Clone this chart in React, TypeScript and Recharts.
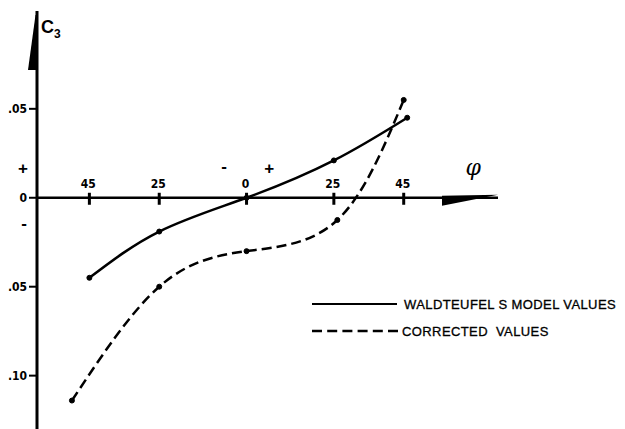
import React from 'react';
import { ComposedChart, Line, XAxis, YAxis, ReferenceLine, ReferenceDot, Legend } from 'recharts';

// ---- data ----
const phiModel = [-45, -25, 0, 25, 46];
const modelValues = [-0.045, -0.019, 0, 0.021, 0.045];
const phiCorrected = [-50, -25, 0, 26, 45];
const correctedValues = [-0.114, -0.05, -0.03, -0.0125, 0.055];
const xTicks = [-45, -25, 0, 25, 45];
const xTickLabels = ['45', '25', '0', '25', '45'];
const yTicks = [0.05, 0, -0.05, -0.1];
const yTickLabels = ['.05', '0', '.05', '.10'];
const seriesNames = ['WALDTEUFEL S MODEL VALUES', 'CORRECTED  VALUES'];
const signLabels = ['+', '-', '-', '+'];
const signX = [-64, -63.7, -6.4, 6.5];
const signY = [0.016, -0.0147, 0.0173, 0.0162];

const X_MIN = -60;
const X_MAX = 72;
const Y_MIN = -0.13;
const Y_MAX = 0.105;

const modelData = phiModel.map((p, i) => ({ phi: p, v: modelValues[i] }));
const correctedData = phiCorrected.map((p, i) => ({ phi: p, v: correctedValues[i] }));

const NUM_FONT = "'Liberation Sans Narrow', 'DejaVu Sans Condensed', 'Liberation Sans', sans-serif";
const SANS = "'Liberation Sans', Arial, sans-serif";

const xTickShape = (label: string) => (props: any) => (
  <g>
    <line x1={props.cx} x2={props.cx} y1={props.cy - 5} y2={props.cy + 7} stroke="#000" strokeWidth={3} />
    <text x={props.cx - 1} y={props.cy - 10} textAnchor="middle" fontFamily={NUM_FONT} fontWeight="bold" fontSize={12} fill="#000">
      {label}
    </text>
  </g>
);

const yTickShape = (label: string) => (props: any) => (
  <g>
    <line x1={props.cx - 8} x2={props.cx} y1={props.cy} y2={props.cy} stroke="#000" strokeWidth={2} />
    <text x={props.cx - 10} y={props.cy + 4} textAnchor="end" fontFamily={NUM_FONT} fontWeight="bold" fontSize={12} fill="#000">
      {label}
    </text>
  </g>
);

const signShape = (label: string) => (props: any) => (
  <text x={props.cx} y={props.cy + 5} textAnchor="middle" fontFamily={SANS} fontWeight="bold" fontSize={17} fill="#000">
    {label}
  </text>
);

const yArrow = (props: any) => (
  <polygon
    points={`${props.cx},${props.cy + 4} ${props.cx - 1.5},${props.cy + 4} ${props.cx - 9},${props.cy + 59} ${props.cx},${props.cy + 59}`}
    fill="#000"
  />
);

const xArrow = (props: any) => (
  <polygon
    points={`${props.cx - 56},${props.cy - 2} ${props.cx},${props.cy - 3} ${props.cx - 56},${props.cy + 8}`}
    fill="#000"
  />
);

const c3Shape = (props: any) => (
  <text x={props.cx} y={props.cy} fontFamily={SANS} fontWeight="bold" fontSize={18} fill="#000">
    C<tspan fontSize={12} dy={5}>3</tspan>
  </text>
);

const phiShape = (props: any) => (
  <text x={props.cx} y={props.cy} textAnchor="middle" fontFamily="'DejaVu Serif', serif" fontStyle="italic" fontSize={22} fill="#000">
    φ
  </text>
);

const legendDash = ['0', '10 5.2'];

const LegendContent = () => (
  <div style={{ fontFamily: SANS, fontSize: 13, color: '#000' }}>
    {seriesNames.map((name, i) => (
      <div key={i} style={{ display: 'flex', alignItems: 'center', height: 20, marginBottom: 7 }}>
        <svg width={90} height={4} style={{ display: 'block' }}>
          <line x1={0} x2={i === 0 ? 85 : 86} y1={2} y2={2} stroke="#000" strokeWidth={i === 0 ? 1.8 : 2.4} strokeDasharray={legendDash[i]} />
        </svg>
        <span style={{ marginLeft: i === 0 ? 2 : 0, letterSpacing: 0.4, whiteSpace: 'pre', WebkitTextStroke: '0.3px #000' }}>{name}</span>
      </div>
    ))}
  </div>
);

export default function App() {
  return (
    <div style={{ position: 'absolute', left: 0, top: 0, background: '#fff' }}>
      <ComposedChart width={625} height={429} margin={{ top: 11, right: 127, bottom: 0, left: 37 }}>
        <XAxis dataKey="phi" type="number" domain={[X_MIN, X_MAX]} hide height={0} allowDataOverflow />
        <YAxis type="number" domain={[Y_MIN, Y_MAX]} hide width={0} allowDataOverflow />
        <ReferenceLine x={X_MIN} stroke="#000" strokeWidth={3} ifOverflow="visible" />
        <ReferenceLine y={0} stroke="#000" strokeWidth={2.5} ifOverflow="visible" />
        <ReferenceDot x={X_MIN} y={Y_MAX} r={0} shape={yArrow} ifOverflow="visible" />
        <ReferenceDot x={X_MAX} y={0} r={0} shape={xArrow} ifOverflow="visible" />
        {xTicks.map((t, i) => (
          <ReferenceDot key={'xt' + i} x={t} y={0} r={0} shape={xTickShape(xTickLabels[i])} ifOverflow="visible" />
        ))}
        {yTicks.map((t, i) => (
          <ReferenceDot key={'yt' + i} x={X_MIN} y={t} r={0} shape={yTickShape(yTickLabels[i])} ifOverflow="visible" />
        ))}
        {signLabels.map((s, i) => (
          <ReferenceDot key={'s' + i} x={signX[i]} y={signY[i]} r={0} shape={signShape(s)} ifOverflow="visible" />
        ))}
        <ReferenceDot x={-58.85} y={0.0927} r={0} shape={c3Shape} ifOverflow="visible" />
        <ReferenceDot x={64.9} y={0.0128} r={0} shape={phiShape} ifOverflow="visible" />
        <Line
          data={modelData}
          dataKey="v"
          name={seriesNames[0]}
          type="natural"
          stroke="#000"
          strokeWidth={2.5}
          dot={{ r: 2.5, fill: '#000', stroke: '#000', strokeWidth: 1 }}
          isAnimationActive={false}
        />
        <Line
          data={correctedData}
          dataKey="v"
          name={seriesNames[1]}
          type="natural"
          stroke="#000"
          strokeWidth={2.5}
          strokeDasharray="10 5"
          dot={{ r: 2.5, fill: '#000', stroke: '#000', strokeWidth: 1, strokeDasharray: '0' }}
          isAnimationActive={false}
        />
        <Legend
          layout="horizontal"
          verticalAlign="middle"
          align="center"
          content={LegendContent}
          wrapperStyle={{ left: 312, top: 294, width: 313, height: 'auto' }}
        />
      </ComposedChart>
    </div>
  );
}
